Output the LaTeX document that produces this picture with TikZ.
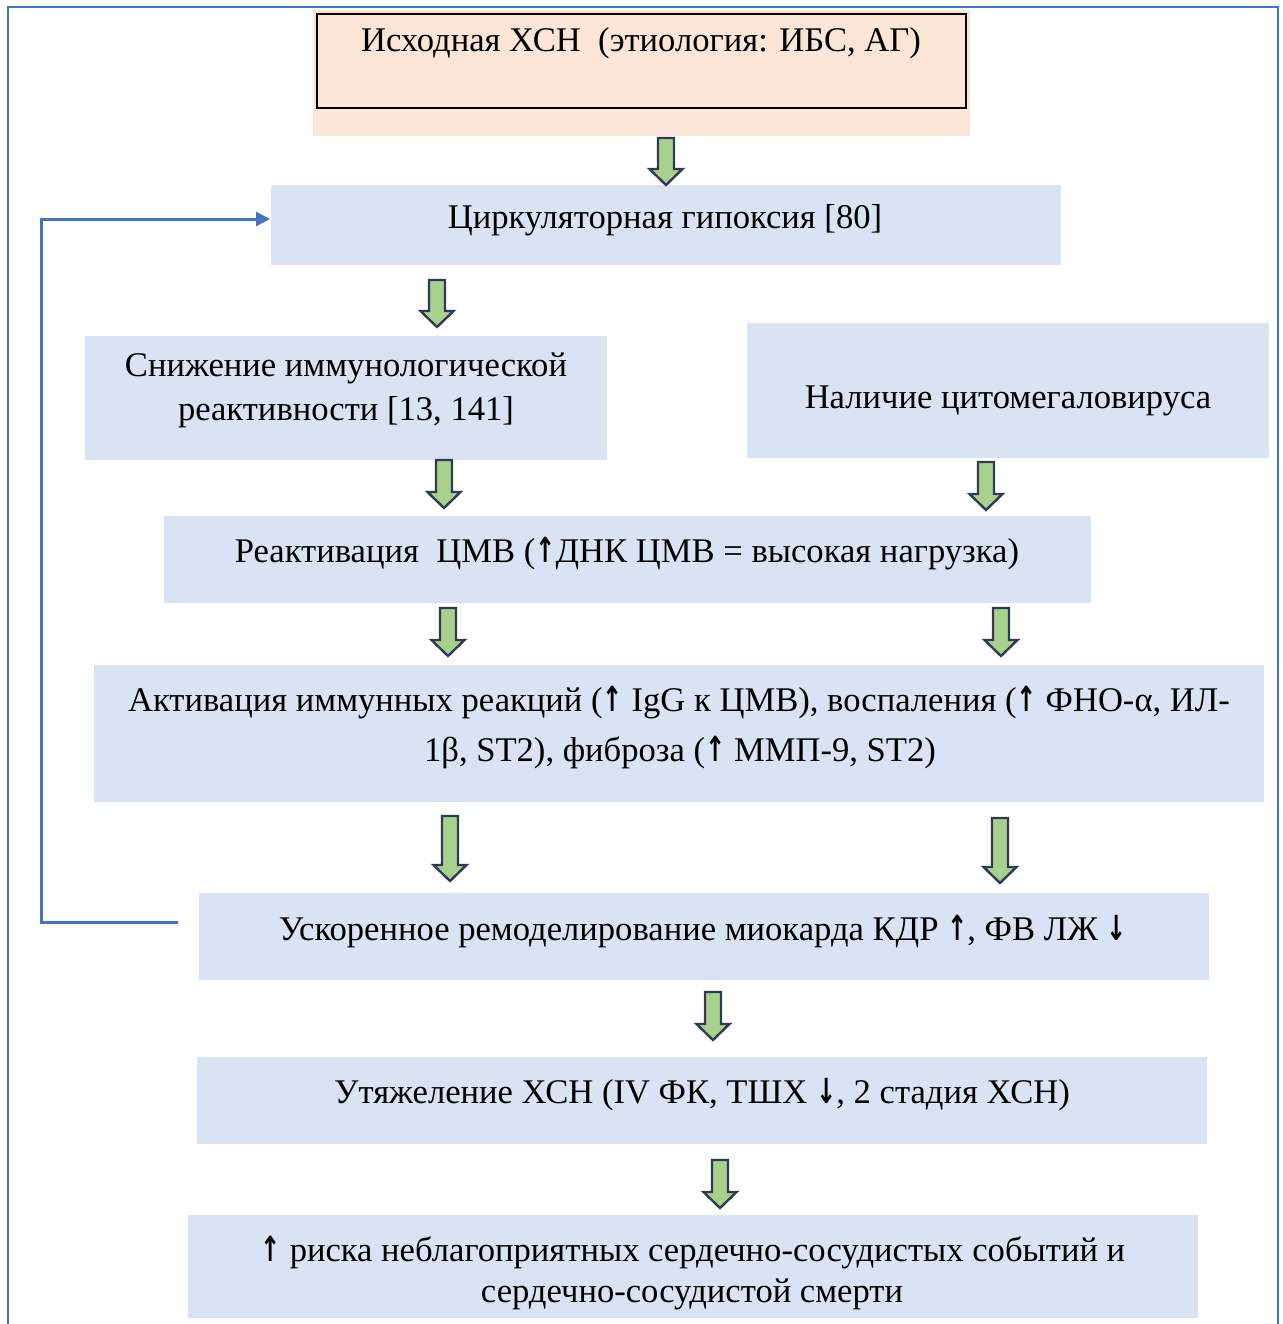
\documentclass[tikz,border=0pt]{standalone}
\usepackage{fontspec}
\setmainfont{Liberation Serif}
\newfontfamily\arrowfont{DejaVu Sans}
\newcommand{\up}{\scalebox{0.7}[1]{\arrowfont\bfseries ↑}}
\newcommand{\down}{\scalebox{0.7}[1]{\arrowfont\bfseries ↓}}
\usetikzlibrary{arrows.meta}
\definecolor{boxblue}{HTML}{DAE3F3}
\definecolor{peach}{HTML}{FBE5D6}
\definecolor{frameblue}{HTML}{4472C4}
\definecolor{arrgreen}{HTML}{A9D18E}
\definecolor{arrline}{HTML}{2F3B56}
\tikzset{
  bluebox/.style={fill=boxblue, draw=none},
  lbl/.style={font=\fontsize{17.3}{22.5}\selectfont, align=center, inner sep=0pt},
  garrowsty/.style={fill=arrgreen, draw=arrline, line width=1.2pt, line join=miter},
  feedback/.style={draw=frameblue, line width=1.5pt, -{Triangle[length=7pt,width=7pt]}},
}
\newcommand{\garr}[3]{\draw[garrowsty] (#1-8,#2) -- (#1+8,#2) -- (#1+8,#3-16) -- (#1+16.5,#3-16) -- (#1,#3) -- (#1-16.5,#3-16) -- (#1-8,#3-16) -- cycle;}
\begin{document}
\begin{tikzpicture}[x=0.5pt,y=-0.5pt]
\useasboundingbox (0,0) rectangle (1283,1324);
% outer frame
\draw[frameblue, line width=1pt] (8,1324) -- (8,7) -- (1278,7) -- (1278,1324);
% top box
\path[fill=peach] (313,10) rectangle (970,136);
\node[draw=black, line width=0.8pt, fill=peach, minimum width=649*0.5pt, minimum height=94*0.5pt, inner sep=0pt] (b0) at (641.5,61) {};
\node[lbl, anchor=base] (t0) at (641,51) {Исходная ХСН\ \ (этиология: ИБС, АГ)};
% boxes
\path[bluebox] (271,185) rectangle (1061,265);
\node[lbl, anchor=base] (t1) at (665,228) {Циркуляторная гипоксия [80]};
\path[bluebox] (85,336) rectangle (607,460);
\node[lbl, anchor=base] (t2a) at (346,376) {Снижение иммунологической};
\node[lbl, anchor=base] (t2b) at (346,420) {реактивности [13, 141]};
\path[bluebox] (747,323) rectangle (1269,458);
\node[lbl, anchor=base] (t3) at (1008,408) {Наличие цитомегаловируса};
\path[bluebox] (164,516) rectangle (1091,603);
\node[lbl, anchor=base] (t4) at (627,562) {Реактивация\ \ ЦМВ (\up ДНК ЦМВ = высокая нагрузка)};
\path[bluebox] (94,665) rectangle (1264,802);
\node[lbl, anchor=base] (t5a) at (679,711) {Активация иммунных реакций (\up\ IgG к ЦМВ), воспаления (\up\ ФНО-α, ИЛ-};
\node[lbl, anchor=base] (t5b) at (680,761) {1β, ST2), фиброза (\up\ ММП-9, ST2)};
\path[bluebox] (199,893) rectangle (1209,980);
\node[lbl, anchor=base] (t6) at (703,940) {Ускоренное ремоделирование миокарда КДР \up, ФВ ЛЖ \down};
\path[bluebox] (197,1057) rectangle (1207,1144);
\node[lbl, anchor=base] (t7) at (702,1103) {Утяжеление ХСН (IV ФК, ТШХ \down, 2 стадия ХСН)};
\path[bluebox] (188,1215) rectangle (1198,1318);
\node[lbl, anchor=base] (t8a) at (693,1261) {\up\ риска неблагоприятных сердечно-сосудистых событий и};
\node[lbl, anchor=base] (t8b) at (692,1302) {сердечно-сосудистой смерти};
% green arrows
\garr{666}{138}{185}
\garr{437}{280}{327}
\garr{444}{460}{508}
\garr{986}{462}{510}
\garr{448}{608}{656}
\garr{1001}{608}{656}
\garr{450}{816}{881}
\garr{1000}{818}{883}
\garr{713}{992}{1040}
\garr{720}{1160}{1208}
% feedback
\coordinate (fbstart) at (178,922);
\coordinate (fbend) at (270,219);
\draw[feedback] (fbstart) -- (41,922) -- (41,219) -- (fbend);
\end{tikzpicture}
\end{document}
